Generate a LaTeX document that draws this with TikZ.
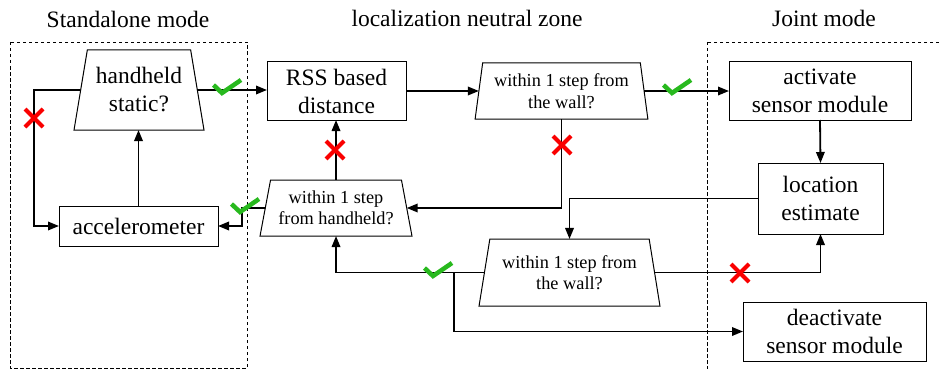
\documentclass[tikz,border=0pt]{standalone}
\usepackage{fontspec}
\setmainfont{Liberation Serif}
\usetikzlibrary{arrows.meta,shapes.geometric}
\definecolor{okgreen}{RGB}{40,185,30}
\definecolor{nored}{RGB}{250,0,0}
\tikzset{
  big/.style={font=\fontsize{23.5}{28}\selectfont, align=center},
  small/.style={font=\fontsize{18.3}{21.5}\selectfont, align=center},
  box/.style={draw, line width=1pt, rectangle, inner sep=0pt, outer sep=0pt},
  trap/.style={draw, line width=1pt, trapezium, trapezium stretches=true, inner sep=1pt, outer sep=0pt},
  arr/.style={line width=1.8pt, -{Triangle[length=11pt,width=8.5pt]}},
  ln/.style={line width=1.8pt},
  zone/.style={draw, line width=0.8pt, dash pattern=on 3.5pt off 2.5pt},
  okmark/.pic={\draw[okgreen, line width=4.5pt] (-8.5,-8) -- (0,0) -- (19,-13);},
  nomark/.pic={\draw[nored, line width=4.2pt] (-9,-9) -- (9,9) (-9,9) -- (9,-9);}
}
\begin{document}
\begin{tikzpicture}[x=1pt,y=-1pt]
\useasboundingbox (0,0) rectangle (939,369);
\begin{scope}
\clip (0,0) rectangle (939,369);
\draw[zone] (10,42) rectangle (247,368);
\draw[zone] (707,42) rectangle (960,400);
\end{scope}
% titles
\node[big] (t1) at (128,19) {Standalone mode};
\node[big] (t2) at (467,18) {localization neutral zone};
\node[big] (t3) at (824,18) {Joint mode};
% nodes
\node[trap, big, minimum width=130pt, minimum height=80pt, trapezium left angle=76.3, trapezium right angle=76.3] (hh) at (139,90) {handheld\\static?};
\node[box, big, minimum width=159pt, minimum height=40pt] (acc) at (138.5,226) {accelerometer};
\node[box, big, minimum width=139pt, minimum height=58pt] (rss) at (336.5,91) {RSS based\\distance};
\node[trap, small, minimum width=173pt, minimum height=56pt, trapezium left angle=79.9, trapezium right angle=79.9] (w1) at (561.5,91) {within 1 step from\\the wall?};
\node[trap, small, minimum width=152pt, minimum height=56pt, trapezium left angle=75.5, trapezium right angle=75.5] (hh2) at (336,208) {within 1 step\\from handheld?};
\node[box, big, minimum width=182pt, minimum height=58pt] (act) at (820,91) {activate\\sensor module};
\node[box, big, minimum width=125pt, minimum height=71pt] (loc) at (820.5,198.5) {location\\estimate};
\node[trap, small, minimum width=181pt, minimum height=67pt, trapezium left angle=75.8, trapezium right angle=75.8] (w2) at (569.5,272.5) {within 1 step from\\the wall?};
\node[box, big, minimum width=183pt, minimum height=59pt] (dea) at (834.5,331.5) {deactivate\\sensor module};
% connectors
\draw[arr] (hh.west) -- (34,90) |- (acc.west);
\draw[arr] (acc.north) -- (acc.north |- hh.south);
\draw[arr] (hh.east) -- (hh.east -| rss.west);
\draw[arr] (rss.east) -- (rss.east -| w1.west);
\draw[arr] (w1.east) -- (w1.east -| act.west);
\draw[arr] (w1.south) |- (hh2.east);
\draw[arr] (hh2.north) -- (hh2.north |- rss.south);
\draw[arr] (hh2.west) -- (242,208) |- (acc.east);
\draw[arr] (act.south) -- (loc.north);
\draw[arr] (loc.west) -| (w2.north);
\draw[arr] (w2.east) -| (loc.south);
\draw[arr] (w2.west) -| (hh2.south);
\coordinate (br) at (454,272.5);
\draw[arr] (br) |- (dea.west);
% marks
\pic at (222,93) {okmark};
\pic at (240,212) {okmark};
\pic at (672,93) {okmark};
\pic at (433,276) {okmark};
\pic at (34,118) {nomark};
\pic at (335,150) {nomark};
\pic at (562,145) {nomark};
\pic at (740,273) {nomark};
\end{tikzpicture}
\end{document}
